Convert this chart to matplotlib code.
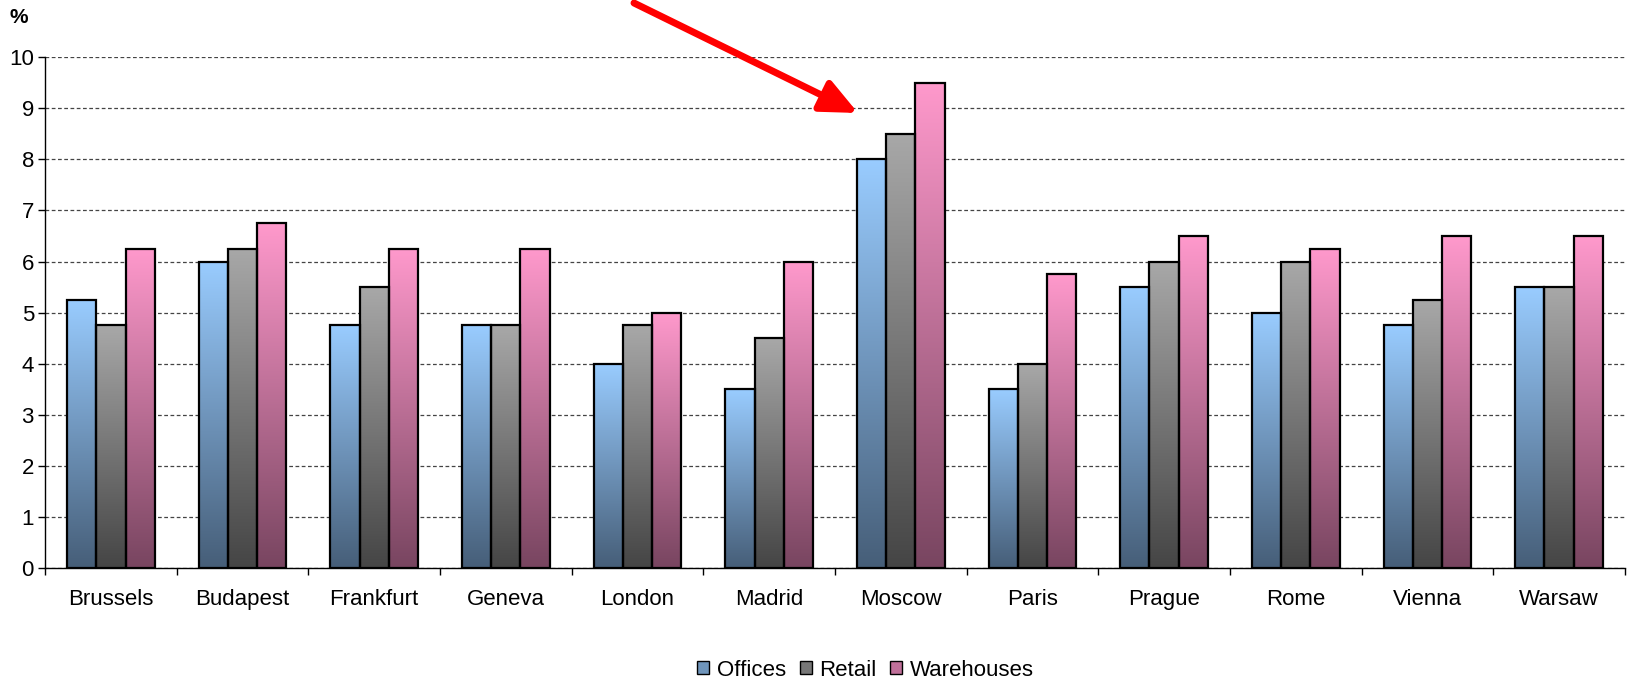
import numpy as np
import matplotlib.pyplot as plt
from matplotlib.patches import Patch
from matplotlib.colors import LinearSegmentedColormap

plt.rcParams['font.family'] = ['Liberation Sans', 'DejaVu Sans']

cities = ['Brussels', 'Budapest', 'Frankfurt', 'Geneva', 'London', 'Madrid',
          'Moscow', 'Paris', 'Prague', 'Rome', 'Vienna', 'Warsaw']
offices = [5.25, 6.0, 4.75, 4.75, 4.0, 3.5, 8.0, 3.5, 5.5, 5.0, 4.75, 5.5]
retail = [4.75, 6.25, 5.5, 4.75, 4.75, 4.5, 8.5, 4.0, 6.0, 6.0, 5.25, 5.5]
warehouses = [6.25, 6.75, 6.25, 6.25, 5.0, 6.0, 9.5, 5.75, 6.5, 6.25, 6.5, 6.5]

series = [
    ('Offices', offices, '#99CCFF', '#465E78'),
    ('Retail', retail, '#A8A8A8', '#454545'),
    ('Warehouses', warehouses, '#FF99CC', '#784560'),
]

fig = plt.figure(figsize=(16.27, 6.81), dpi=100)
ax = fig.add_axes([0.0277, 0.166, 0.971, 0.750])

x = np.arange(len(cities))
bw = 0.222
grad = np.linspace(1, 0, 256).reshape(-1, 1)

for k, (name, vals, top, bottom) in enumerate(series):
    cmap = LinearSegmentedColormap.from_list(name, [bottom, top])
    pos = x + (k - 1) * bw
    for xi, v in zip(pos, vals):
        ax.imshow(grad, cmap=cmap, vmin=0, vmax=1, aspect='auto',
                  extent=[xi - bw / 2, xi + bw / 2, 0, v], zorder=2,
                  interpolation='bilinear')
    ax.bar(pos, vals, width=bw, fill=False, edgecolor='black', linewidth=1.6, zorder=3)

ax.set_xlim(-0.5, len(cities) - 0.5)
ax.set_ylim(0, 10)
ax.set_yticks(range(0, 11))
ax.tick_params(axis='y', labelsize=16, length=5, width=1, pad=3)
ax.yaxis.grid(True, linestyle=(0, (3, 2)), color='#444444', linewidth=0.9, zorder=1)
ax.set_axisbelow(True)

ax.set_xticks(x)
ax.set_xticklabels(cities, fontsize=16)
ax.tick_params(axis='x', length=0, pad=15)
ax.set_xticks(np.arange(-0.5, len(cities)), minor=True)
ax.tick_params(axis='x', which='minor', length=5, width=1)

for s in ['top', 'right']:
    ax.spines[s].set_visible(False)
for s in ['left', 'bottom']:
    ax.spines[s].set_linewidth(1.0)

fig.text(0.006, 0.975, '%', fontsize=15, fontweight='bold', va='center', ha='left')

# red arrow pointing at Moscow
ax.annotate('', xy=(858, 568), xytext=(634, 678), xycoords='figure pixels',
            textcoords='figure pixels', annotation_clip=False,
            arrowprops=dict(arrowstyle='-|>,head_length=2.2,head_width=1.0',
                            color='#FF0000', lw=5, shrinkA=0, shrinkB=0))

handles = [Patch(facecolor=c, edgecolor='black', label=n)
           for n, c in [('Offices', '#6F95BB'), ('Retail', '#777777'), ('Warehouses', '#C0709A')]]
fig.legend(handles=handles, loc='center', bbox_to_anchor=(0.532, 0.016), ncol=3,
           frameon=False, fontsize=16, handlelength=0.55, handleheight=0.55,
           handletextpad=0.35, columnspacing=0.6)

fig.savefig('out.png', dpi=100)
